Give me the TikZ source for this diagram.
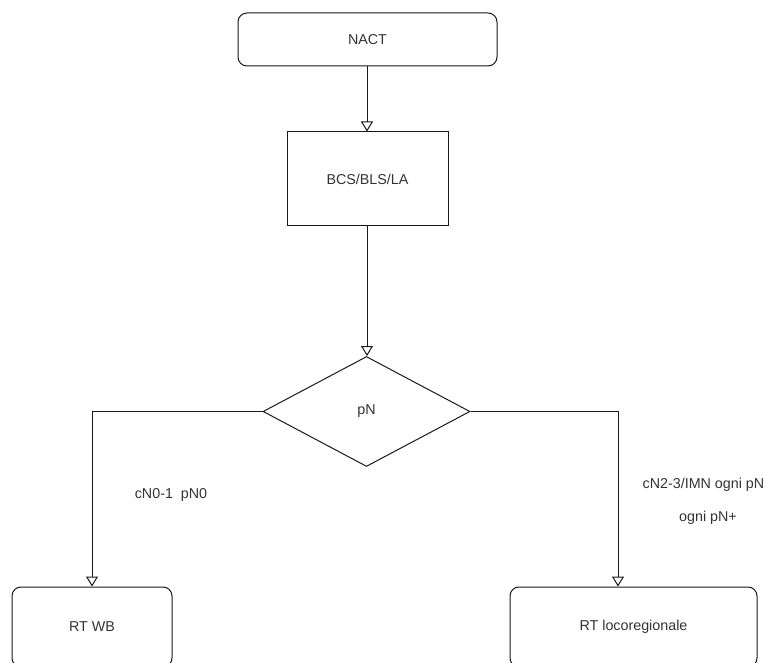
\documentclass[tikz,border=0pt]{standalone}
\usepackage{fontspec}
\setmainfont{Liberation Sans}
\usetikzlibrary{shapes.geometric,arrows.meta}
\begin{document}
\begin{tikzpicture}[x=1pt,y=-1pt,
  every node/.style={font=\fontsize{14.3}{17}\selectfont, text=black!80},
  rbox/.style={draw=black!90, line width=1pt, rounded corners=9pt, inner sep=0pt},
  sbox/.style={draw=black!90, line width=1pt, inner sep=0pt},
  dec/.style={draw=black!90, line width=1pt, shape=diamond, inner sep=0pt},
  conn/.style={draw=black!90, line width=1pt, -{Triangle[open,length=10pt,width=12pt]}},
  lbl/.style={inner sep=0pt}]
\useasboundingbox (0,0) rectangle (766,663);
\node[rbox, minimum width=259pt, minimum height=53pt] (nact) at (367.5,39.5) {NACT};
\node[sbox, minimum width=161pt, minimum height=94pt] (bcs) at (367.5,179) {BCS/BLS/LA};
\node[dec, minimum width=207pt, minimum height=110pt] (pn) at (366.5,411.5) {pN};
\node[rbox, minimum width=160pt, minimum height=80pt] (wb) at (92,627) {RT WB};
\node[rbox, minimum width=247pt, minimum height=80pt] (rl) at (633.5,627) {RT locoregionale};
\draw[conn] (nact.south -| 367,0) -- (bcs.north -| 367,0);
\draw[conn] (bcs.south -| 367,0) -- (pn.north -| 367,0);
\draw[conn] (pn.west) -| (wb.north);
\draw[conn] (pn.east) -| ([xshift=-15.5pt]rl.north);
\node[lbl] (l1) at (171,495) {cN0-1\ \ pN0};
\node[lbl] (l2) at (703.5,485) {cN2-3/IMN ogni pN};
\node[lbl] (l3) at (708,518) {ogni pN+};
\end{tikzpicture}
\end{document}
